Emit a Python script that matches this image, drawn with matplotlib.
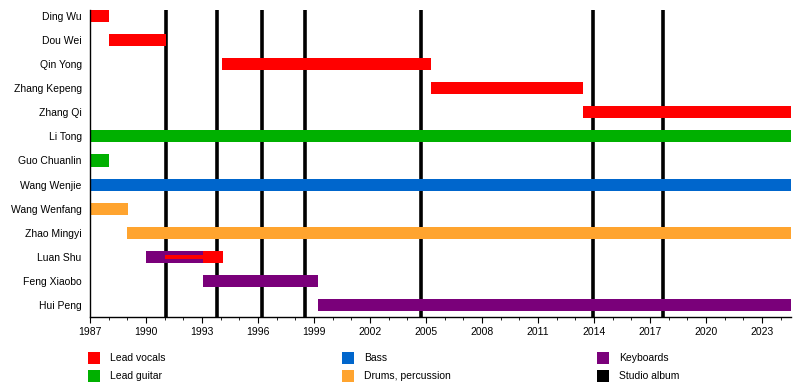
import matplotlib
matplotlib.use("Agg")
import matplotlib.pyplot as plt
from matplotlib.patches import Rectangle

plt.rcParams['font.family'] = ['Liberation Sans', 'DejaVu Sans']

END_YEAR = 2024.55

members = ["Ding Wu", "Dou Wei", "Qin Yong", "Zhang Kepeng", "Zhang Qi",
           "Li Tong", "Guo Chuanlin", "Wang Wenjie", "Wang Wenfang",
           "Zhao Mingyi", "Luan Shu", "Feng Xiaobo", "Hui Peng"]

# (member, role, start, end)
seg_member = ["Ding Wu", "Dou Wei", "Qin Yong", "Zhang Kepeng", "Zhang Qi",
              "Li Tong", "Guo Chuanlin", "Wang Wenjie", "Wang Wenfang",
              "Zhao Mingyi", "Luan Shu", "Luan Shu", "Feng Xiaobo", "Hui Peng"]
seg_role = ["vocals", "vocals", "vocals", "vocals", "vocals",
            "guitar", "guitar", "bass", "drums",
            "drums", "keys", "vocals", "keys", "keys"]
seg_start = [1987.0, 1988.0, 1994.07, 2005.26, 2013.4,
             1987.0, 1987.0, 1987.0, 1987.0,
             1989.0, 1990.0, 1993.07, 1993.07, 1999.2]
seg_end = [1988.0, 1991.07, 2005.26, 2013.4, END_YEAR,
           END_YEAR, 1988.0, END_YEAR, 1989.03,
           END_YEAR, 1993.07, 1994.1, 1999.2, END_YEAR]

# secondary role shown as a thin bar inside the main one
thin_member = ["Luan Shu"]
thin_role = ["vocals"]
thin_start = [1991.0]
thin_end = [1993.07]

albums = [1991.07, 1993.8, 1996.21, 1998.5, 2004.73, 2013.94, 2017.69]

role_names = ["vocals", "guitar", "bass", "drums", "keys", "album"]
role_labels = ["Lead vocals", "Lead guitar", "Bass", "Drums, percussion",
               "Keyboards", "Studio album"]
role_colors = {"vocals": "#ff0000", "guitar": "#00b000", "bass": "#0066cc",
               "drums": "#ffa42f", "keys": "#7a007a", "album": "#000000"}

fig = plt.figure(figsize=(8, 3.9), dpi=100)
ax = fig.add_axes([90 / 800, 1 - 317 / 390, 701 / 800, 307 / 390])

for x in albums:
    ax.axvline(x, color="black", lw=2.6, zorder=1)

ypos = {m: i for i, m in enumerate(members)}
for m, r, s, e in zip(seg_member, seg_role, seg_start, seg_end):
    ax.barh(ypos[m], e - s, left=s, height=0.5, color=role_colors[r],
            linewidth=0, zorder=2)
for m, r, s, e in zip(thin_member, thin_role, thin_start, thin_end):
    ax.barh(ypos[m], e - s, left=s, height=0.17, color=role_colors[r],
            linewidth=0, zorder=3)

ax.set_xlim(1987, END_YEAR)
ax.set_ylim(12.5, -0.25)
ax.set_yticks(range(len(members)))
ax.set_yticklabels(members, fontsize=7.5)
ax.tick_params(axis="y", length=0, pad=6)
ax.set_xticks(range(1987, 2025, 3))
ax.set_xticks(range(1987, 2025), minor=True)
ax.tick_params(axis="x", which="major", length=4, labelsize=7.5, pad=3)
ax.tick_params(axis="x", which="minor", length=2.5)
for side in ["top", "right"]:
    ax.spines[side].set_visible(False)
ax.spines["left"].set_linewidth(1)
ax.spines["bottom"].set_linewidth(1)

# legend laid out in three columns
col_x = [88, 342, 597]
row_y = [358, 376]
for k, (r, lab) in enumerate(zip(role_names, role_labels)):
    cx = col_x[k // 2]
    cy = row_y[k % 2]
    fig.add_artist(Rectangle((cx / 800, 1 - (cy + 6) / 390), 12 / 800, 12 / 390,
                             transform=fig.transFigure, color=role_colors[r], lw=0))
    fig.text((cx + 22) / 800, 1 - cy / 390, lab, fontsize=7.5, va="center")

fig.savefig("out.png", dpi=100)
